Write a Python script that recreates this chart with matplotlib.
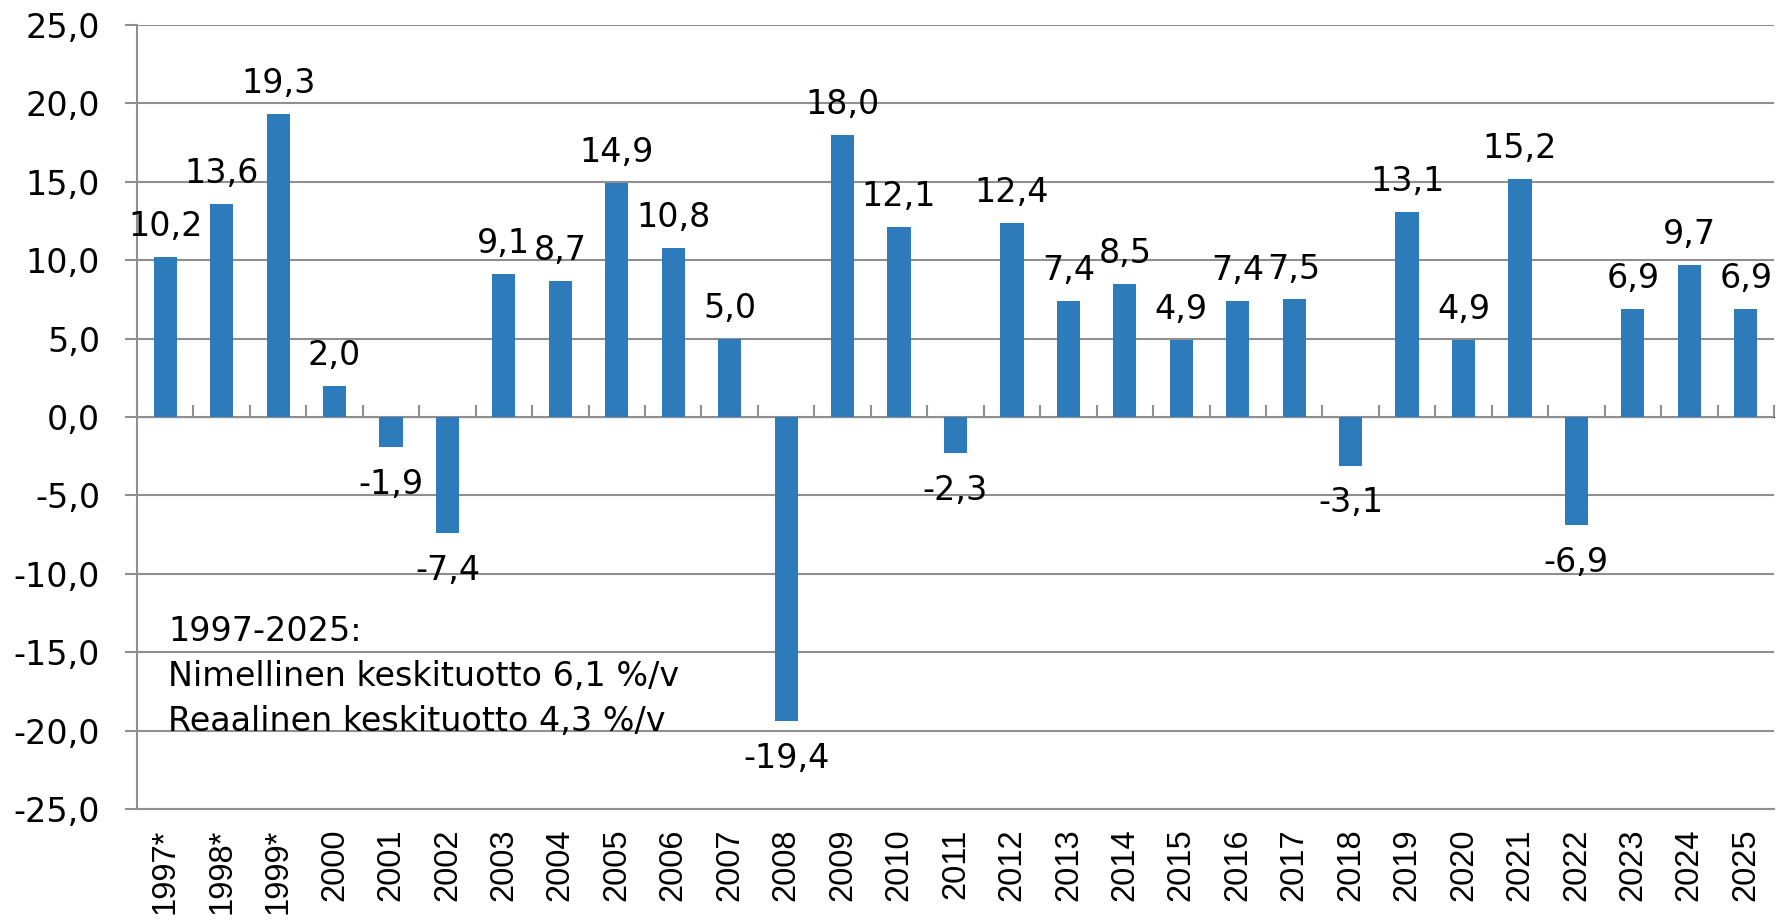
import matplotlib
matplotlib.use("Agg")
import matplotlib.pyplot as plt
import numpy as np

years = ["1997*", "1998*", "1999*", "2000", "2001", "2002", "2003", "2004", "2005",
         "2006", "2007", "2008", "2009", "2010", "2011", "2012", "2013", "2014",
         "2015", "2016", "2017", "2018", "2019", "2020", "2021", "2022", "2023",
         "2024", "2025"]
returns = [10.2, 13.6, 19.3, 2.0, -1.9, -7.4, 9.1, 8.7, 14.9, 10.8, 5.0, -19.4, 18.0,
           12.1, -2.3, 12.4, 7.4, 8.5, 4.9, 7.4, 7.5, -3.1, 13.1, 4.9, 15.2, -6.9,
           6.9, 9.7, 6.9]
note_lines = ["1997-2025:", "Nimellinen keskituotto 6,1 %/v", "Reaalinen keskituotto 4,3 %/v"]

plt.rcParams['font.family'] = ['DejaVu Sans']
grid_c = '#8f8f8f'
bar_c = '#2e7bbb'
fs = 24

fig = plt.figure(figsize=(17.77, 9.23), dpi=100)
ax = fig.add_axes([0.0771, 0.1235, 0.9212, 0.8494])

x = np.arange(len(years))
ax.bar(x, returns, width=0.41, color=bar_c, zorder=3)

ax.set_xlim(-0.5, len(years) - 0.5)
ax.set_ylim(-25, 25)
ticks = np.arange(-25, 26, 5)
ax.set_yticks(ticks)
ax.set_yticklabels([f"{v:.1f}".replace('.', ',') for v in ticks], fontsize=fs)
ax.tick_params(axis='y', length=8.6, width=1.5, color=grid_c, pad=18)
ax.yaxis.grid(True, color=grid_c, linewidth=1.5, zorder=0)
for s in ['top', 'right']:
    ax.spines[s].set_visible(False)
for s in ['left', 'bottom']:
    ax.spines[s].set_color(grid_c)
    ax.spines[s].set_linewidth(1.5)

ax.set_xticks(x)
ax.set_xticklabels(years, rotation=90, fontsize=23.5, family='Liberation Sans')
ax.tick_params(axis='x', length=0, pad=14)

# category boundary ticks on the zero line
sec = ax.secondary_xaxis(0.5)
sec.set_xticks(np.arange(-0.5, len(years), 1.0))
sec.set_xticklabels([])
sec.tick_params(axis='x', length=8.6, width=1.5, color=grid_c, direction='out')
sec.spines['bottom'].set_visible(False)

for xi, v in zip(x, returns):
    lbl = f"{v:.1f}".replace('.', ',')
    if v >= 0:
        ax.annotate(lbl, (xi, v), xytext=(0, 10), textcoords='offset points',
                    ha='center', va='bottom', fontsize=fs)
    else:
        ax.annotate(lbl, (xi, v), xytext=(0, -15), textcoords='offset points',
                    ha='center', va='top', fontsize=fs)

ax.text(0.019, 0.247, "\n".join(note_lines), transform=ax.transAxes, fontsize=fs,
        va='top', ha='left', linespacing=1.46)

fig.savefig("out.png", dpi=100)
